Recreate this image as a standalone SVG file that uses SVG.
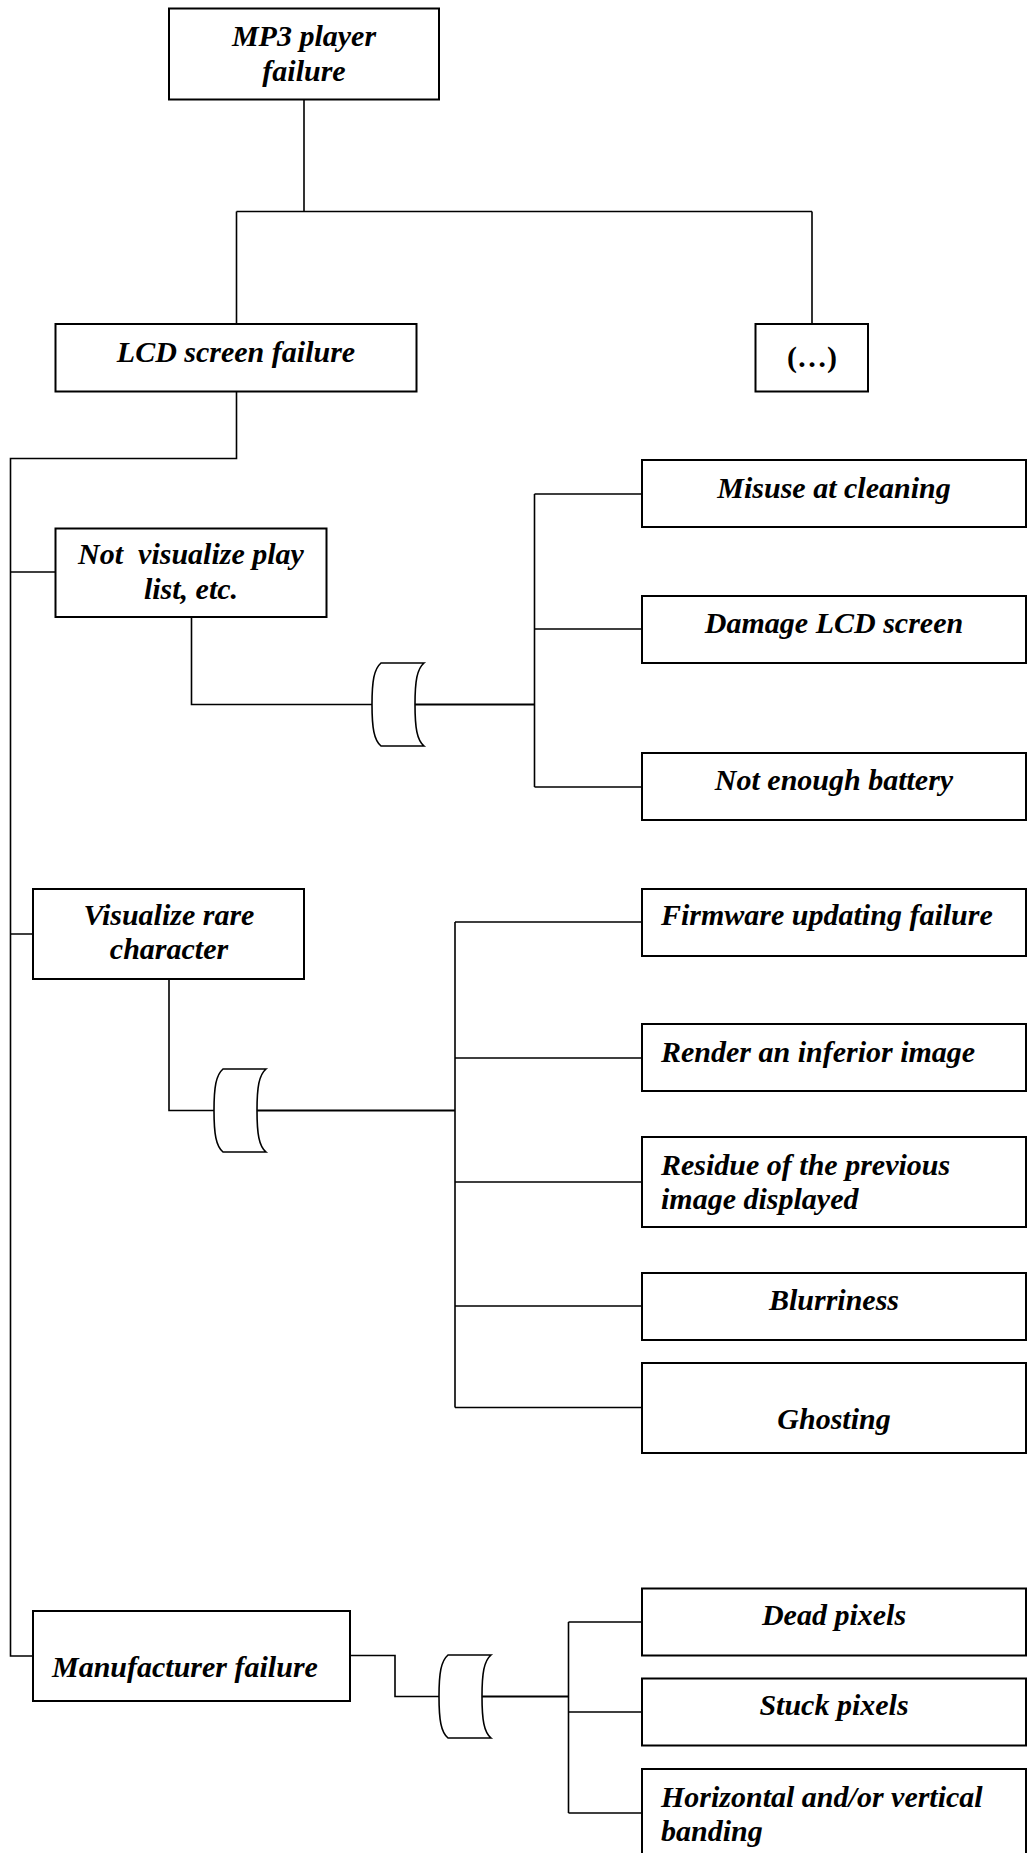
<svg xmlns="http://www.w3.org/2000/svg" width="1032" height="1853" viewBox="0 0 1032 1853">
  <style>
    .box { fill: #fff; stroke: #000; stroke-width: 2; }
    .wire { fill: none; stroke: #000; stroke-width: 1.6; }
    .wire2 { fill: none; stroke: #000; stroke-width: 2.2; }
    .gate { fill: #fff; stroke: #000; stroke-width: 1.6; }
    .t { font-family: "Liberation Serif", "Times New Roman", serif; font-weight: bold; font-style: italic; font-size: 30px; fill: #000; }
    .up { font-style: normal; }
    .c { text-anchor: middle; }
  </style>
  <defs>
    <!-- OR-style gate: convex left side, concave right side -->
    <path id="gate" class="gate" d="M9,0 H52 C45,6 43,18 43,41.5 C43,65 45,77 52,83 H9 C2,77 0,65 0,41.5 C0,18 2,6 9,0 Z"/>
  </defs>

  <rect width="1032" height="1853" fill="#fff"/>

  <g id="connectors">
    <!-- top level -->
    <path class="wire" d="M304,99.5 V211.5 M236.5,211.5 H812 M236.5,211.5 V324 M812,211.5 V324"/>
    <!-- LCD screen failure to its three branches -->
    <path class="wire" d="M236.5,391.5 V458.5 H10.5 V1656 H33 M10.5,572 H55.5 M10.5,934 H33"/>
    <!-- branch 1 -->
    <path class="wire" d="M191.5,617 V704.5 H372"/>
    <path class="wire2" d="M415,704.5 H534.5"/>
    <path class="wire" d="M534.5,494 V787 M534.5,494 H642 M534.5,629 H642 M534.5,787 H642"/>
    <!-- branch 2 -->
    <path class="wire" d="M169,979 V1110.5 H214"/>
    <path class="wire2" d="M257,1110.5 H455"/>
    <path class="wire" d="M455,922 V1407.5 M455,922 H642 M455,1058 H642 M455,1182 H642 M455,1306 H642 M455,1407.5 H642"/>
    <!-- branch 3 -->
    <path class="wire" d="M350,1655.5 H395 V1696.5 H439"/>
    <path class="wire2" d="M482,1696.5 H568.5"/>
    <path class="wire" d="M568.5,1622 V1813 M568.5,1622 H642 M568.5,1712 H642 M568.5,1813 H642"/>
  </g>

  <g id="gates">
    <use href="#gate" x="372" y="663"/>
    <use href="#gate" x="214" y="1069"/>
    <use href="#gate" x="439" y="1655"/>
  </g>

  <g id="n-root">
    <rect class="box" x="169" y="8.5" width="270" height="91"/>
    <text class="t c" x="304" y="46">MP3 player</text>
    <text class="t c" x="304" y="81">failure</text>
  </g>
  <g id="n-lcd">
    <rect class="box" x="55.5" y="324" width="361" height="67.5"/>
    <text class="t c" x="236" y="362">LCD screen failure</text>
  </g>
  <g id="n-more">
    <rect class="box" x="755.5" y="324" width="112.5" height="67.5"/>
    <text class="t up c" x="812" y="367">(…)</text>
  </g>
  <g id="n-notvis">
    <rect class="box" x="55.5" y="528.5" width="271" height="88.5"/>
    <text class="t c" x="191" y="564">Not&#160; visualize play</text>
    <text class="t c" x="191" y="599">list, etc.</text>
  </g>
  <g id="n-misuse">
    <rect class="box" x="642" y="460" width="384" height="67"/>
    <text class="t c" x="834" y="498">Misuse at cleaning</text>
  </g>
  <g id="n-damage">
    <rect class="box" x="642" y="596" width="384" height="67"/>
    <text class="t c" x="834" y="633">Damage LCD screen</text>
  </g>
  <g id="n-battery">
    <rect class="box" x="642" y="753" width="384" height="67"/>
    <text class="t c" x="834" y="790">Not enough battery</text>
  </g>
  <g id="n-rare">
    <rect class="box" x="33" y="889" width="271" height="90"/>
    <text class="t c" x="169" y="925">Visualize rare</text>
    <text class="t c" x="169" y="959">character</text>
  </g>
  <g id="n-firmware">
    <rect class="box" x="642" y="889" width="384" height="67"/>
    <text class="t" x="661" y="925">Firmware updating failure</text>
  </g>
  <g id="n-render">
    <rect class="box" x="642" y="1024" width="384" height="67"/>
    <text class="t" x="661" y="1062">Render an inferior image</text>
  </g>
  <g id="n-residue">
    <rect class="box" x="642" y="1137" width="384" height="90"/>
    <text class="t" x="661" y="1175">Residue of the previous</text>
    <text class="t" x="661" y="1209">image displayed</text>
  </g>
  <g id="n-blur">
    <rect class="box" x="642" y="1273" width="384" height="67"/>
    <text class="t c" x="834" y="1310">Blurriness</text>
  </g>
  <g id="n-ghost">
    <rect class="box" x="642" y="1363" width="384" height="90"/>
    <text class="t c" x="834" y="1429">Ghosting</text>
  </g>
  <g id="n-manuf">
    <rect class="box" x="33" y="1611" width="317" height="90"/>
    <text class="t" x="52" y="1677">Manufacturer failure</text>
  </g>
  <g id="n-dead">
    <rect class="box" x="642" y="1588.5" width="384" height="67"/>
    <text class="t c" x="834" y="1625">Dead pixels</text>
  </g>
  <g id="n-stuck">
    <rect class="box" x="642" y="1678.5" width="384" height="67"/>
    <text class="t c" x="834" y="1715">Stuck pixels</text>
  </g>
  <g id="n-banding">
    <rect class="box" x="642" y="1769" width="384" height="100"/>
    <text class="t" x="661" y="1807">Horizontal and/or vertical</text>
    <text class="t" x="661" y="1841">banding</text>
  </g>
</svg>
